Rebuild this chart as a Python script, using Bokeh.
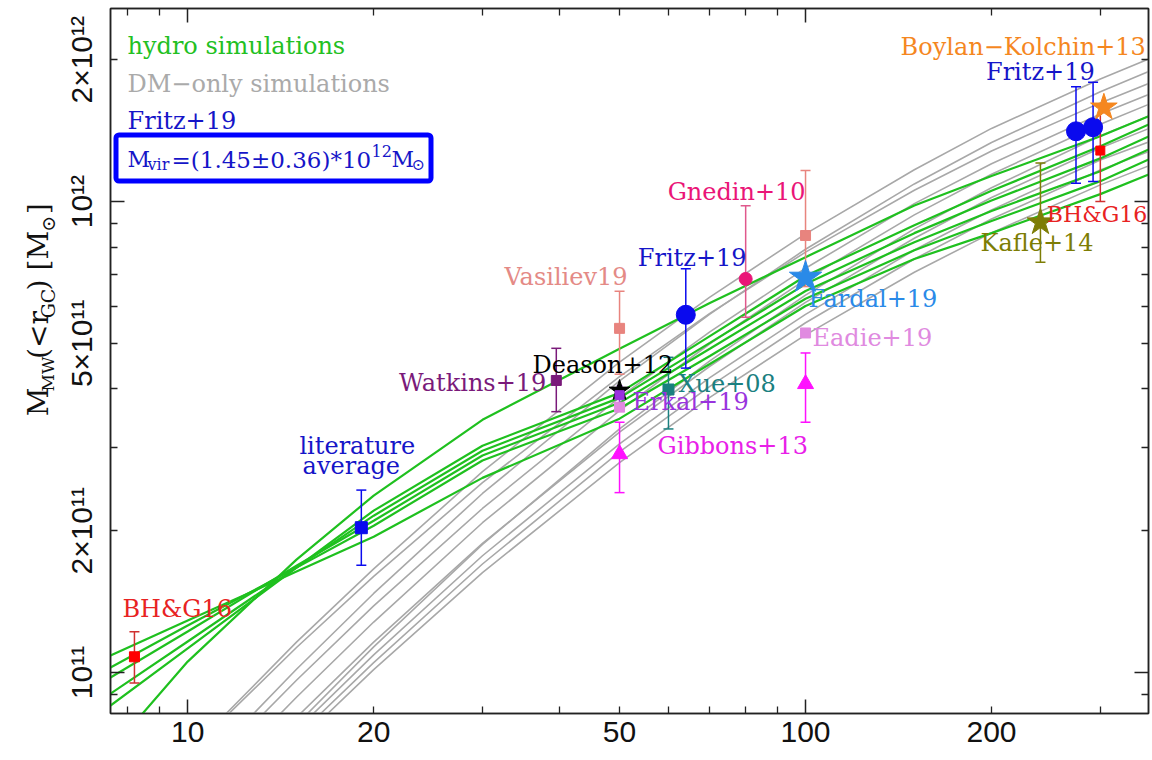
import math
from bokeh.plotting import figure
from bokeh.layouts import row
from bokeh.models import (Range1d, LogAxis, FixedTicker, Label, BoxAnnotation,
                          CustomJSTickFormatter)
from bokeh.embed import file_html
from bokeh.resources import INLINE
from bokeh.core.properties import value

U = 1e11  # all masses below are in units of 1e11 Msun

# ---------------- simulation mass profiles ----------------
r_hydro = [7.5, 10, 15, 20, 30, 50, 70, 100, 150, 200, 300, 360]
hydro_1 = [0.683, 1.055, 1.737, 2.375, 3.44, 4.87, 6.09, 7.62, 9.81, 11.33, 13.76, 15.2]
hydro_2 = [0.851, 1.125, 1.67, 2.207, 3.03, 3.925, 5.18, 6.95, 8.91, 10.54, 13.1, 14.6]
hydro_3 = [0.902, 1.164, 1.67, 2.153, 2.958, 3.83, 5.01, 6.68, 8.57, 10.05, 12.35, 13.76]
hydro_4 = [0.976, 1.222, 1.686, 2.10, 2.89, 3.738, 4.87, 6.46, 8.20, 9.55, 11.6, 12.92]
hydro_5 = [1.025, 1.258, 1.67, 2.05, 2.82, 3.635, 4.70, 6.22, 7.88, 9.09, 11.05, 12.3]
hydro_6 = [1.087, 1.289, 1.638, 1.943, 2.59, 3.46, 4.52, 6.0, 7.55, 8.57, 10.37, 11.43]

r_dm = [10, 15, 20, 30, 50, 70, 100, 150, 200, 300, 360]
dm_1 = [0.676, 1.16, 1.66, 2.67, 4.56, 6.27, 8.54, 11.68, 14.3, 18.2, 20.1]
dm_2 = [0.672, 1.13, 1.60, 2.53, 4.25, 5.79, 7.81, 10.57, 12.81, 16.2, 17.83]
dm_3 = [0.586, 1.016, 1.472, 2.40, 4.16, 5.77, 7.92, 10.9, 13.35, 17.1, 18.9]
dm_4 = [0.562, 0.963, 1.385, 2.23, 3.84, 5.29, 7.22, 9.9, 12.03, 15.35, 16.9]
dm_5 = [0.516, 0.886, 1.28, 2.08, 3.60, 4.99, 6.83, 9.37, 11.43, 14.6, 16.1]
dm_6 = [0.47, 0.803, 1.16, 1.88, 3.24, 4.47, 6.11, 8.36, 10.2, 13.0, 14.3]
dm_7 = [0.45, 0.775, 1.134, 1.87, 3.29, 4.59, 6.33, 8.75, 10.7, 13.8, 15.2]
dm_8 = [0.445, 0.755, 1.09, 1.77, 3.06, 4.23, 5.76, 7.89, 9.6, 12.25, 13.4]
dm_9 = [0.433, 0.73, 1.05, 1.70, 2.94, 4.05, 5.53, 7.55, 9.18, 11.67, 12.78]
dm_10 = [0.423, 0.707, 1.014, 1.63, 2.79, 3.84, 5.21, 7.08, 8.58, 10.85, 11.92]

# ---------------- observational estimates ----------------
bhg_r = [8.2, 300];  bhg_m = [1.08, 12.83];  bhg_lo = [0.95, 10.0];  bhg_hi = [1.22, 16.0]
lit_r = [19.1];      lit_m = [2.03];         lit_lo = [1.69];        lit_hi = [2.44]
wat_r = [39.5];      wat_m = [4.17];         wat_lo = [3.58];        wat_hi = [4.88]
vas_r = [50, 100];   vas_m = [5.38, 8.47];   vas_lo = [4.30, 6.60];  vas_hi = [6.45, 11.64]
dea_r = [50];        dea_m = [3.97]
erk_r = [50];        erk_m = [3.88];         erk_lo = [3.72];        erk_hi = [4.06]
ead_r = [50, 100];   ead_m = [3.66, 5.26]
gib_r = [50, 100];   gib_m = [2.91, 4.10];   gib_lo = [2.41, 3.40];  gib_hi = [3.40, 4.77]
xue_r = [60];        xue_m = [3.99];         xue_lo = [3.29];        xue_hi = [4.67]
fri_r = [64, 274, 292]; fri_m = [5.75, 14.10, 14.38]
fri_lo = [4.43, 10.94, 11.03]; fri_hi = [7.20, 17.54, 17.92]
gne_r = [80];        gne_m = [6.85];         gne_lo = [5.68];        gne_hi = [9.80]
far_r = [100];       far_m = [6.90]
kaf_r = [240];       kaf_m = [9.04];         kaf_lo = [7.43];        kaf_hi = [12.08]
bk_r = [304];        bk_m = [15.85]

x_tick_vals = [10, 20, 50, 100, 200]
x_tick_text = ["10", "20", "50", "100", "200"]
y_tick_vals = [1e11, 2e11, 5e11, 1e12, 2e12]
y_tick_text = ["10\u00b9\u00b9", "2\u00d710\u00b9\u00b9", "5\u00d710\u00b9\u00b9", "10\u00b9\u00b2", "2\u00d710\u00b9\u00b2"]

legend_hydro = "hydro simulations"
legend_dm = "DM\u2212only simulations"
legend_fritz = "Fritz+19"

def m(a):
    return [v * U for v in a]

SERIF = "DejaVu Serif"
SANS = "Liberation Sans"
INK = "#222222"
TW = 62  # width of the y-title panel
LIFT = -8  # baseline correction for the serif annotations

p = figure(width=1152 - TW, height=760, x_axis_type="log", y_axis_type="log",
           x_range=Range1d(7.5, 359.0), y_range=Range1d(8.185e10, 2.57e12),
           output_backend="svg", toolbar_location=None,
           min_border_left=110 - TW, min_border_right=4, min_border_top=8, min_border_bottom=47)
p.grid.visible = False
p.outline_line_color = INK
p.outline_line_width = 1.5
p.background_fill_color = "white"
p.border_fill_color = "white"

xt = FixedTicker(ticks=[10, 100], minor_ticks=[8, 9, 20, 30, 40, 50, 60, 70, 80, 90, 200, 300])
yt = FixedTicker(ticks=[1e11, 1e12], minor_ticks=[9e10, 2e11, 3e11, 4e11, 5e11, 6e11, 7e11, 8e11, 9e11, 2e12])

def tick_axis(ax, ticker, orient):
    ax.ticker = ticker
    ax.formatter = CustomJSTickFormatter(code="return ''")
    ax.major_label_text_font_size = "4px"
    ax.major_label_orientation = orient
    ax.major_label_standoff = 0
    ax.axis_line_color = INK
    ax.axis_line_width = 1.5
    ax.major_tick_line_color = INK
    ax.minor_tick_line_color = INK
    ax.major_tick_line_width = 1.5
    ax.minor_tick_line_width = 1.3
    ax.major_tick_in = 14
    ax.major_tick_out = 0
    ax.minor_tick_in = 7
    ax.minor_tick_out = 0

tick_axis(p.xaxis[0], xt, "vertical")
tick_axis(p.yaxis[0], yt, "horizontal")
top = LogAxis(); tick_axis(top, xt, "vertical"); p.add_layout(top, "above")
right = LogAxis(); tick_axis(right, yt, "horizontal"); p.add_layout(right, "right")

def label_axis(vals, labs, orient, standoff):
    ax = LogAxis(ticker=FixedTicker(ticks=vals, minor_ticks=[]),
                 formatter=CustomJSTickFormatter(args=dict(vals=vals, labs=labs), code="""
                     for (let i = 0; i < vals.length; i++) {
                         if (Math.abs(vals[i] - tick) <= 1e-6 * vals[i]) return labs[i];
                     }
                     return '';"""))
    ax.axis_line_color = None
    ax.major_tick_line_color = None
    ax.minor_tick_line_color = None
    ax.major_tick_in = 0
    ax.major_tick_out = 0
    ax.minor_tick_in = 0
    ax.minor_tick_out = 0
    ax.major_label_standoff = standoff
    ax.major_label_orientation = orient
    ax.major_label_text_font = SANS
    ax.major_label_text_font_size = "30px"
    ax.major_label_text_color = "#111111"
    return ax

p.add_layout(label_axis(x_tick_vals, x_tick_text, "horizontal", 8), "below")
p.add_layout(label_axis(y_tick_vals, y_tick_text, "parallel", 12), "left")

GRAY = "#a8a8a8"
GREEN = "#1fc01f"
for prof in [dm_1, dm_2, dm_3, dm_4, dm_5, dm_6, dm_7, dm_8, dm_9, dm_10]:
    p.line(r_dm, m(prof), line_color=GRAY, line_width=1.6)
for prof in [hydro_1, hydro_2, hydro_3, hydro_4, hydro_5, hydro_6]:
    p.line(r_hydro, m(prof), line_color=GREEN, line_width=2.2)

def errbar(r, lo, hi, color, cap=10):
    p.segment(x0=r, y0=m(lo), x1=r, y1=m(hi), line_color=color, line_width=1.5)
    p.scatter(x=list(r) + list(r), y=m(lo) + m(hi), marker="dash", size=cap,
              line_color=color, line_width=1.5)

RED = "#ff0000"; BLUE = "#0a0aee"; PURPLE = "#7a1a7a"; SALMON = "#e8847e"
TEAL = "#1a8080"; VIOLET = "#9a30e0"; ORCHID = "#e08ae0"; MAGENTA = "#ff10ff"
CRIMSON = "#ea1577"; FARDAL = "#2a8ae8"; OLIVE = "#7d7d05"; ORANGE = "#f5871f"

errbar(bhg_r, bhg_lo, bhg_hi, "#d03030")
errbar(lit_r, lit_lo, lit_hi, BLUE)
errbar(wat_r, wat_lo, wat_hi, PURPLE)
errbar(vas_r, vas_lo, vas_hi, SALMON)
errbar(gib_r, gib_lo, gib_hi, MAGENTA)
errbar(xue_r, xue_lo, xue_hi, TEAL)
errbar(fri_r, fri_lo, fri_hi, BLUE)
errbar(gne_r, gne_lo, gne_hi, "#e0588c")
errbar(kaf_r, kaf_lo, kaf_hi, OLIVE)
errbar(erk_r, erk_lo, erk_hi, VIOLET, cap=6)

p.scatter(bhg_r, m(bhg_m), marker="square", size=[10, 9], fill_color=RED, line_color=RED)
p.scatter(lit_r, m(lit_m), marker="square", size=12, fill_color=BLUE, line_color=BLUE)
p.scatter(wat_r, m(wat_m), marker="square", size=10, fill_color=PURPLE, line_color=PURPLE)
p.scatter(vas_r, m(vas_m), marker="square", size=10, fill_color=SALMON, line_color=SALMON)
p.scatter(ead_r, m(ead_m), marker="square", size=10, fill_color=ORCHID, line_color=ORCHID)
p.scatter(dea_r, m(dea_m), marker="star", size=22, fill_color="black", line_color="black")
p.scatter(erk_r, m(erk_m), marker="square", size=9, fill_color=VIOLET, line_color=VIOLET)
p.scatter(gib_r, m(gib_m), marker="triangle", size=16, fill_color=MAGENTA, line_color=MAGENTA)
p.scatter(xue_r, m(xue_m), marker="square", size=11, fill_color=TEAL, line_color=TEAL)
p.scatter(gne_r, m(gne_m), marker="circle", size=13, fill_color=CRIMSON, line_color=CRIMSON)
p.scatter(fri_r, m(fri_m), marker="circle", size=19, fill_color=BLUE, line_color=BLUE)
p.scatter(far_r, m(far_m), marker="star", size=34, fill_color=FARDAL, line_color=FARDAL)
p.scatter(kaf_r, m(kaf_m), marker="star", size=28, fill_color=OLIVE, line_color=OLIVE)
p.scatter(bk_r, m(bk_m), marker="star", size=28, fill_color=ORANGE, line_color=ORANGE)

def tag(r, mm, text, color, dx, dy, align="left", fs=24):
    p.text(x=[r], y=[mm * U], text=[text], text_color=color, text_font=value(SERIF),
           text_font_size=f"{fs}px", text_align=align, text_baseline="alphabetic",
           x_offset=dx, y_offset=dy + LIFT)

tag(bhg_r[0], bhg_m[0], "BH&G16", "#e82222", -12, -40)
tag(lit_r[0], lit_m[0], "literature", "#1515c8", -4, -74, "center")
tag(lit_r[0], lit_m[0], "average", "#1515c8", -10, -54, "center")
tag(wat_r[0], wat_m[0], "Watkins+19", PURPLE, -10, 11, "right")
tag(vas_r[0], vas_m[0], "Vasiliev19", "#e48a86", 8, -43, "right")
tag(dea_r[0], dea_m[0], "Deason+12", "black", -87, -18)
tag(erk_r[0], erk_m[0], "Erkal+19", "#9933dd", 13, 15)
tag(gib_r[0], gib_m[0], "Gibbons+13", "#e820e8", 38, 0)
tag(xue_r[0], xue_m[0], "Xue+08", TEAL, 10, 3)
tag(fri_r[0], fri_m[0], "Fritz+19", "#1515c8", -48, -49)
tag(gne_r[0], gne_m[0], "Gnedin+10", CRIMSON, -78, -79)
tag(far_r[0], far_m[0], "Fardal+19", FARDAL, 3, 30)
tag(ead_r[1], ead_m[1], "Eadie+19", ORCHID, 7, 13)
tag(kaf_r[0], kaf_m[0], "Kafle+14", OLIVE, -60, 29)
tag(bhg_r[1], bhg_m[1], "BH&G16", "#e82222", 47, 72, "right", 22)
tag(fri_r[1], fri_m[1], "Fritz+19", "#1515c8", -90, -51)
tag(bk_r[0], bk_m[0], "Boylan\u2212Kolchin+13", ORANGE, 42, -52, "right")

# legend block (top-left, frame-relative screen coordinates)
def slab(text, px, py, color, fs=24):
    p.add_layout(Label(x=px - 110, y=713 - (py + LIFT), x_units="screen", y_units="screen",
                       text=text, text_font=SERIF, text_font_size=f"{fs}px", text_color=color,
                       text_align="left", text_baseline="alphabetic"))

slab(legend_hydro, 127, 53, "#22c022")
slab(legend_dm, 127, 91, "#aaaaaa")
slab(legend_fritz, 127, 128, "#1515c8")
p.add_layout(BoxAnnotation(left=5.5, right=320.5, top=578.5, bottom=532.5,
                           left_units="screen", right_units="screen",
                           top_units="screen", bottom_units="screen",
                           fill_alpha=0, line_color="#0000ff", line_alpha=1.0,
                           line_width=5, border_radius=3))
slab("M", 127, 167, "#1515c8", 22)
slab("vir", 147, 172, "#1515c8", 16)
slab("=(1.45\u00b10.36)*10", 171, 167, "#1515c8", 23)
slab("12", 371, 158, "#1515c8", 16)
slab("M", 391, 167, "#1515c8", 22)
slab("\u2299", 411, 172, "#1515c8", 16)

# ---------------- y-axis title (separate narrow panel, page pixel coordinates) ----------------
t = figure(width=TW, height=760, x_range=Range1d(0, TW), y_range=Range1d(760, 0),
           output_backend="svg", toolbar_location=None,
           x_axis_location=None, y_axis_location=None,
           min_border_left=0, min_border_right=0, min_border_top=0, min_border_bottom=0)
t.grid.visible = False
t.outline_line_color = None
t.background_fill_color = "white"
t.border_fill_color = "white"
# (text, font px, centre x, centre y)
ytitle = [("M", 28, 38, 424), ("MW", 17, 47, 394), ("(<r", 28, 38, 352), ("GC", 19, 47, 318),
          (")", 28, 38, 298), ("[M", 28, 38, 261), ("\u2299", 19, 47, 232), ("]", 28, 38, 216)]
for txt, fs, cx, cy in ytitle:
    t.text(x=[cx], y=[cy], text=[txt], angle=math.pi / 2, text_color="#111111",
           text_font=value(SERIF), text_font_size=f"{fs}px",
           text_align="center", text_baseline="middle")

layout = row(t, p)
open("out.html", "w").write(file_html(layout, INLINE))
